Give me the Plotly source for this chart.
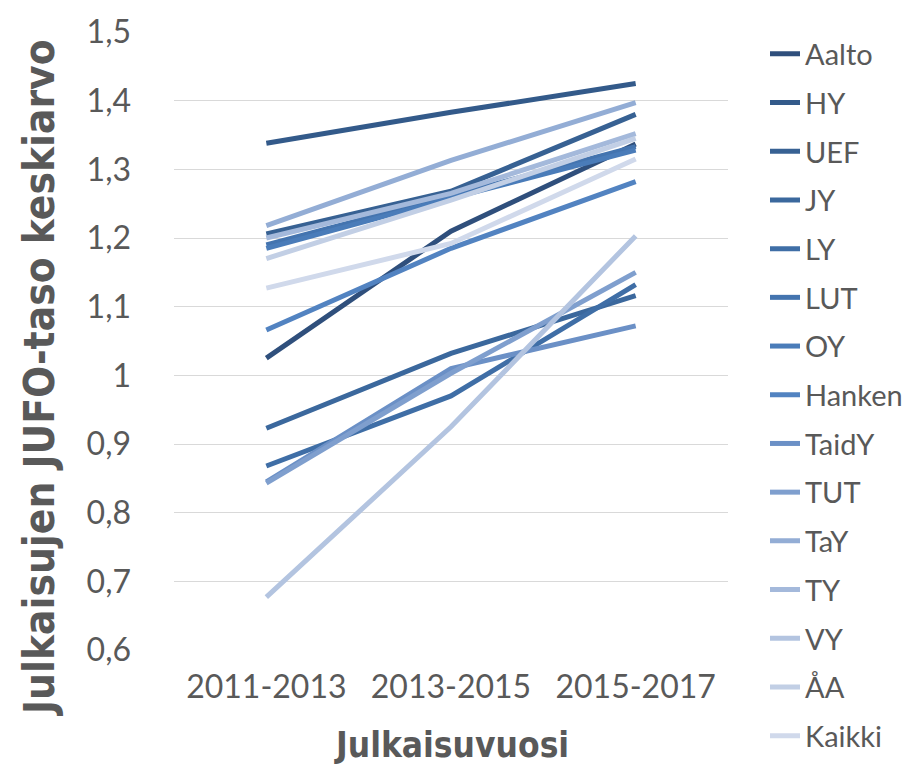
import plotly.graph_objects as go

categories = ["2011-2013", "2013-2015", "2015-2017"]

series_names = ["Aalto", "HY", "UEF", "JY", "LY", "LUT", "OY", "Hanken",
                "TaidY", "TUT", "TaY", "TY", "VY", "ÅA", "Kaikki"]

aalto = [1.025, 1.210, 1.337]
hy = [1.338, 1.383, 1.425]
uef = [1.206, 1.268, 1.380]
jy = [0.923, 1.032, 1.116]
ly = [0.868, 0.970, 1.132]
lut = [1.190, 1.262, 1.333]
oy = [1.185, 1.258, 1.328]
hanken = [1.066, 1.185, 1.282]
taidy = [0.845, 1.010, 1.072]
tut = [0.843, 1.003, 1.150]
tay = [1.218, 1.313, 1.397]
ty = [1.200, 1.265, 1.352]
vy = [0.677, 0.925, 1.203]
aa = [1.170, 1.255, 1.345]
kaikki = [1.127, 1.192, 1.315]

series_values = [aalto, hy, uef, jy, ly, lut, oy, hanken,
                 taidy, tut, tay, ty, vy, aa, kaikki]

colors = ["#2F4F7C", "#335A8A", "#376193", "#3B689D", "#3F6EA6", "#4474AF",
          "#4A7CB9", "#5283C1", "#6B90C6", "#7F9FCE", "#93ADD5", "#A4B9DB",
          "#B3C4E0", "#C2CFE5", "#D0D9EB"]

x_title = "Julkaisuvuosi"
y_title = "Julkaisujen JUFO-taso keskiarvo"

fig = go.Figure()
for name, vals, col in zip(series_names, series_values, colors):
    fig.add_trace(go.Scatter(
        x=categories, y=vals, mode="lines", name=name,
        legendgroup=name,
        line=dict(color=col, width=5),
    ))

body = "Lato, Open Sans, sans-serif"
cond = "DejaVu Sans Condensed, DejaVu Sans, sans-serif"
tick_font = dict(family=body, size=32, color="#595959")

L, R, T, B = 166, 192, 24, 126
W, H = 912, 768
pw, ph = W - L - R, H - T - B

fig.update_layout(
    width=W, height=H,
    margin=dict(l=L, r=R, t=T, b=B, autoexpand=False),
    paper_bgcolor="white", plot_bgcolor="white",
    separators=", ",
    showlegend=True,
    legend=dict(
        x=(757 - L) / pw, xanchor="left", y=1 + 3.5 / ph, yanchor="top",
        font=dict(family=body, size=29, color="#595959"),
        tracegroupgap=8, maxheight=1,
        bgcolor="rgba(0,0,0,0)",
    ),
    xaxis=dict(
        type="category", range=[-0.5, 2.5], automargin=False,
        showgrid=False, zeroline=False, showline=False,
        tickfont=tick_font, ticks="", ticklabelstandoff=15,
    ),
    yaxis=dict(
        range=[0.6, 1.5], dtick=0.1, tick0=0.6, automargin=False,
        showgrid=True, gridcolor="#D9D9D9", gridwidth=1.3,
        zeroline=False, showline=False,
        tickfont=tick_font, ticks="", ticklabelstandoff=42,
    ),
    annotations=[
        dict(text="<b>" + x_title + "</b>", xref="paper", yref="paper",
             x=(443 - L) / pw, y=(642 - 737) / ph, xanchor="center", yanchor="middle",
             showarrow=False, font=dict(family=cond, size=35, color="#595959")),
        dict(text="<b>" + y_title + "</b>", xref="paper", yref="paper",
             x=(31 - L) / pw, y=(642 - 370) / ph, xanchor="center", yanchor="middle",
             textangle=-90, showarrow=False,
             font=dict(family=cond, size=42, color="#595959")),
    ],
)

fig.write_html("out.html")
